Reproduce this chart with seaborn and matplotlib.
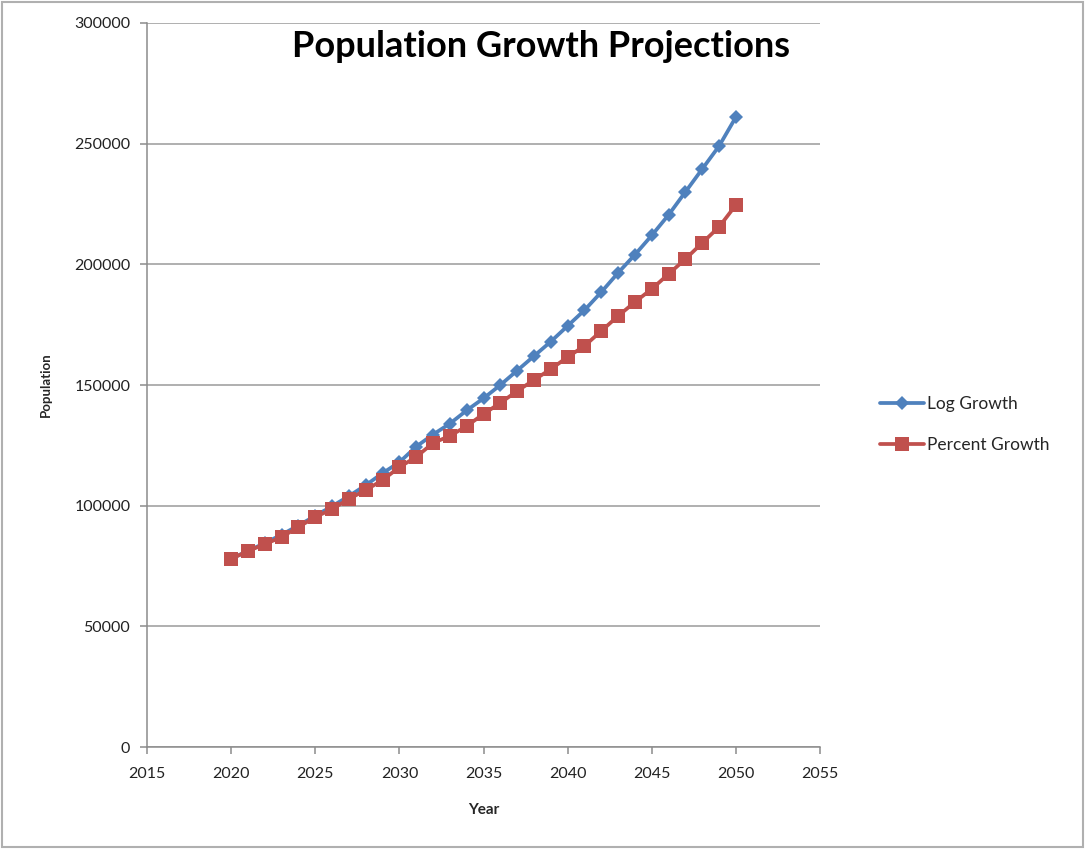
import matplotlib
matplotlib.use("Agg")
import matplotlib.pyplot as plt
import seaborn as sns
import pandas as pd
from matplotlib.patches import Rectangle
from matplotlib.lines import Line2D

years = list(range(2020, 2051))
log_growth = [78000, 81300, 84500, 88000, 91800, 95800, 99800, 104000, 108500, 113500,
              118000, 124500, 129500, 134000, 139500, 144500, 150000, 156000, 162000, 168000,
              174500, 181000, 188500, 196500, 204000, 212000, 220500, 230000, 239500, 249000,
              261000]
percent_growth = [78000, 81200, 84100, 87000, 91200, 95300, 98600, 102800, 106500, 110600,
                  116000, 120200, 126000, 128900, 133000, 138000, 142600, 147500, 152100, 156600,
                  161600, 166200, 172400, 178600, 184400, 189800, 196000, 202200, 208900, 215500,
                  224600]
series_names = ["Log Growth", "Percent Growth"]
x_ticks = [2015, 2020, 2025, 2030, 2035, 2040, 2045, 2050, 2055]
y_ticks = [0, 50000, 100000, 150000, 200000, 250000, 300000]

df = pd.DataFrame({
    "Year": years * 2,
    "Population": log_growth + percent_growth,
    "Series": [series_names[0]] * len(years) + [series_names[1]] * len(years),
})

sns.set_style("white")
plt.rcParams["font.family"] = ["Lato", "DejaVu Sans"]

fig = plt.figure(figsize=(10.85, 8.49), dpi=100)
ax = fig.add_axes([0.1355, 0.120, 0.6203, 0.853])

palette = {"Log Growth": "#4F81BD", "Percent Growth": "#C0504D"}
sns.lineplot(data=df, x="Year", y="Population", hue="Series", style="Series",
             markers={"Log Growth": "D", "Percent Growth": "s"}, dashes=False,
             palette=palette, linewidth=2.7, markeredgewidth=0, ax=ax, legend=False)
for line, ms in zip(ax.lines, [7.5, 10.5]):
    line.set_markersize(ms)

ax.set_xlim(2015, 2055)
ax.set_ylim(0, 300000)
ax.set_xticks(x_ticks)
ax.set_yticks(y_ticks)
ax.set_xticklabels([str(t) for t in x_ticks])
ax.set_yticklabels([str(t) for t in y_ticks])
ax.yaxis.grid(True, color="#9a9a9a", linewidth=1.1)
ax.xaxis.grid(False)
for s in ["top", "right"]:
    ax.spines[s].set_visible(False)
for s in ["left", "bottom"]:
    ax.spines[s].set_color("#8c8c8c")
    ax.spines[s].set_linewidth(1.1)
ax.tick_params(axis="both", direction="out", length=5, color="#8c8c8c", width=1.1,
               labelsize=11.5, labelcolor="#222222", left=True, bottom=True)
ax.tick_params(axis="x", pad=9)
ax.tick_params(axis="y", pad=7)
ax.set_xlabel("Year", fontsize=11, fontweight="bold", labelpad=16)
ax.set_ylabel("Population", fontsize=9.5, fontweight="bold", labelpad=16)

ax.text(0.585, 0.99, "Population Growth Projections", transform=ax.transAxes,
        ha="center", va="top", fontsize=26, fontweight="bold", color="black")

handles = [Line2D([], [], color=palette["Log Growth"], marker="D", markersize=7,
                  linewidth=2.7, markeredgewidth=0),
           Line2D([], [], color=palette["Percent Growth"], marker="s", markersize=9.5,
                  linewidth=2.7, markeredgewidth=0)]
fig.legend(handles, series_names, loc="center left", bbox_to_anchor=(0.797, 0.5),
           frameon=False, fontsize=12.5, handlelength=2.5, handletextpad=0.2,
           labelspacing=1.45)

fig.patches.append(Rectangle((0.002, 0.002), 0.996, 0.996, transform=fig.transFigure,
                             fill=False, edgecolor="#b0b0b0", linewidth=1.5))

fig.savefig("out.png", dpi=100, facecolor="white")
